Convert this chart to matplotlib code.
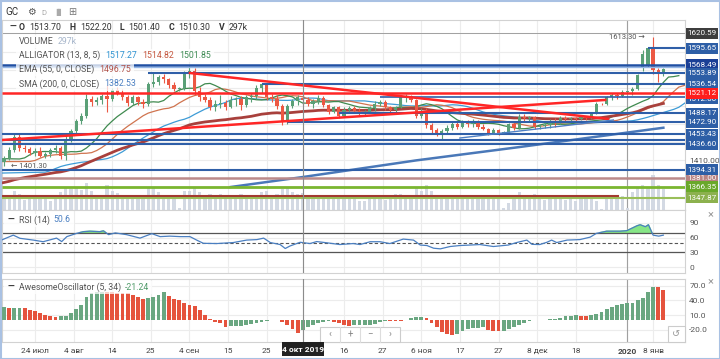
import numpy as np
import pandas as pd
import matplotlib.pyplot as plt
from matplotlib.patches import Rectangle

plt.rcParams['font.family'] = ['Roboto', 'DejaVu Sans']

W, H = 720, 359

# ---- data (daily GC bars, every weekday 16 Jul 2019 .. 10 Jan 2020) ----
dates = pd.bdate_range('2019-07-16', '2020-01-10')

opens = [1408, 1414, 1427, 1449, 1430, 1429, 1422, 1426, 1418, 1420, 1427, 1431, 1418, 1446,
         1458, 1475, 1484, 1512, 1506, 1510, 1516, 1512, 1526, 1522, 1514, 1505, 1514, 1506,
         1504, 1536, 1540, 1548, 1544, 1534, 1528, 1530, 1554, 1558, 1524, 1514, 1510, 1498,
         1504, 1505, 1498, 1510, 1512, 1502, 1514, 1516, 1530, 1536, 1514, 1512, 1500, 1474,
         1500, 1508, 1513.7, 1510, 1504, 1508, 1513, 1502, 1490, 1498, 1484, 1494, 1496, 1492,
         1488, 1490, 1496, 1504, 1506, 1498, 1494, 1498, 1514, 1516, 1510, 1484, 1492, 1468,
         1460, 1456, 1458, 1464, 1470, 1466, 1472, 1470, 1474, 1466, 1462, 1456, 1460, 1455,
         1457, 1470, 1464, 1482, 1480, 1482, 1466, 1467, 1468, 1475, 1472, 1480, 1478, 1480,
         1478, 1482, 1480, 1488, 1504, 1503, 1514, 1518, 1516, 1523, 1524, 1528, 1562, 1568,
         1595, 1560, 1555]
highs = [1418, 1432, 1455, 1453, 1435, 1432, 1430, 1432, 1424, 1430, 1436, 1434, 1450, 1462,
         1478, 1488, 1520, 1516, 1514, 1520, 1534, 1530, 1532, 1528, 1518, 1518, 1517, 1512,
         1540, 1556, 1552, 1553, 1547, 1540, 1532, 1558, 1566, 1562, 1532, 1520, 1514, 1510,
         1518, 1510, 1516, 1515, 1516, 1518, 1522, 1534, 1538, 1538, 1520, 1518, 1504, 1504,
         1512, 1518, 1522.2, 1514, 1512, 1518, 1517, 1504, 1500, 1500, 1498, 1500, 1500, 1496,
         1494, 1500, 1508, 1510, 1510, 1500, 1500, 1516, 1520, 1518, 1512, 1496, 1496, 1472,
         1464, 1462, 1468, 1474, 1474, 1476, 1476, 1478, 1476, 1470, 1464, 1464, 1462, 1458,
         1472, 1474, 1486, 1486, 1484, 1484, 1470, 1472, 1478, 1480, 1484, 1484, 1482, 1482,
         1484, 1484, 1490, 1506, 1505, 1516, 1522, 1522, 1526, 1525, 1531, 1553, 1593, 1597,
         1613.3, 1563, 1563]
lows = [1401.3, 1411, 1424, 1426, 1424, 1419, 1418, 1415, 1414, 1416, 1423, 1412, 1410, 1440,
        1455, 1470, 1480, 1500, 1501, 1504, 1490, 1508, 1518, 1510, 1500, 1502, 1502, 1496,
        1500, 1532, 1534, 1538, 1530, 1524, 1525, 1526, 1546, 1518, 1508, 1506, 1494, 1492,
        1496, 1494, 1496, 1500, 1494, 1498, 1506, 1512, 1522, 1510, 1506, 1495, 1469, 1470,
        1496, 1502, 1501.4, 1500, 1496, 1503, 1498, 1486, 1488, 1480, 1482, 1490, 1488, 1484,
        1484, 1488, 1492, 1500, 1494, 1488, 1490, 1496, 1506, 1506, 1480, 1480, 1464, 1456,
        1450, 1445, 1454, 1460, 1462, 1464, 1466, 1466, 1462, 1460, 1452, 1454, 1452, 1453,
        1454, 1460, 1462, 1474, 1474, 1462, 1462, 1464, 1464, 1466, 1470, 1474, 1474, 1475,
        1476, 1476, 1478, 1486, 1502, 1502, 1510, 1512, 1514, 1521, 1518, 1526, 1558, 1564,
        1553, 1540, 1550]
closes = [1414, 1427, 1449, 1430, 1429, 1422, 1426, 1418, 1420, 1427, 1431, 1418, 1446, 1458,
          1475, 1484, 1512, 1506, 1510, 1516, 1512, 1526, 1522, 1514, 1505, 1514, 1506, 1504,
          1536, 1540, 1548, 1544, 1534, 1528, 1530, 1554, 1558, 1524, 1514, 1510, 1498, 1504,
          1505, 1498, 1510, 1512, 1502, 1514, 1516, 1530, 1536, 1514, 1512, 1500, 1474, 1500,
          1508, 1514, 1510.3, 1504, 1508, 1513, 1502, 1490, 1498, 1484, 1494, 1496, 1492, 1488,
          1490, 1496, 1504, 1506, 1498, 1494, 1498, 1514, 1516, 1510, 1484, 1492, 1468, 1460,
          1456, 1458, 1464, 1470, 1466, 1472, 1470, 1474, 1466, 1462, 1456, 1460, 1455, 1457,
          1470, 1464, 1482, 1480, 1482, 1466, 1467, 1468, 1475, 1472, 1480, 1478, 1480, 1478,
          1482, 1480, 1488, 1504, 1503, 1514, 1518, 1516, 1523, 1524, 1528, 1551, 1586, 1595,
          1560, 1555, 1561]
volumes = [210, 260, 330, 280, 170, 190, 200, 230, 180, 160, 190, 310, 380, 350,
           390, 340, 460, 330, 240, 230, 420, 330, 290, 250, 240, 220, 230, 240,
           390, 380, 300, 260, 240, 230, 40, 320, 330, 390, 300, 250, 270, 260,
           280, 230, 220, 210, 280, 250, 230, 260, 300, 330, 260, 280, 360, 390,
           300, 280, 297, 210, 230, 240, 220, 260, 180, 250, 240, 200, 190, 150,
           160, 180, 210, 200, 170, 190, 280, 270, 230, 220, 390, 320, 420, 330,
           260, 250, 230, 260, 220, 180, 200, 230, 210, 190, 200, 220, 190, 30,
           120, 230, 300, 250, 220, 280, 180, 170, 240, 260, 240, 170, 180, 160,
           190, 200, 220, 150, 20, 180, 230, 210, 240, 30, 300, 400, 430, 380,
           600, 420, 360]

# Awesome Oscillator values per bar
ao_vals = [26, 25, 25, 25, 24, 21, 18, 14, 10, 8,
           5, 7, 9, 15, 23, 30, 48, 56, 56.5, 57.2,
           56.8, 56.5, 56, 55.5, 55, 52, 48, 43, 45, 48,
           52, 57, 50, 43, 40, 35, 31, 28, 21, 11,
           1, -4, -7, -14, -13.5, -12.5, -12, -11, -8, -6,
           -4, -2, -0.5, -1, -4, -10, -18, -26, -21.24, -15,
           -10, -6, -3.5, -2.5, -4, -7, -10, -12, -11.5, -11,
           -10.5, -10, -8, -5, -2, -2.3, -2.6, -2.8, 0.5, 3,
           5, 6.5, 3, -6, -14, -24, -29, -31, -28, -23,
           -19, -17, -16, -15, -20, -22, -23.5, -22, -18, -14,
           -11, -6, -2, -1, -0.5, -0.8, 1, 2.5, 4, 7,
           9, 9.5, 9, 8.5, 10.5, 12.5, 17, 23, 27.5, 31,
           33.5, 34.5, 35, 40, 46, 57, 68, 67.5, 61]

# RSI(14) (bar position, value)
rsi_x = [-0.5, 1.8, 3.1, 5.7, 7.6, 10.2, 11.2, 12.2, 14.1, 15.4, 16.7, 18.6, 19.3, 20.3, 21.6,
         23.8, 26.4, 28.7, 30.3, 32.2, 34.2, 36.1, 37.4, 38.7, 41.3, 44.5, 47.1, 49.1, 50.4,
         51.7, 53.6, 54.6, 55.5, 57.5, 59.4, 60.7, 62.7, 65.2, 67.8, 69.1, 71.1, 73, 74.9,
         77.5, 79.5, 80.8, 82.1, 83.4, 84.7, 86.6, 88.5, 90.5, 92.4, 95, 97.9, 99.5, 101.5,
         102.5, 104, 105.4, 106.3, 107.3, 109.3, 111.8, 113.8, 115, 117, 119.6, 120.9, 122.9,
         123.5, 124.5, 125.1, 126, 127.1, 128]
rsi_v = [55, 65, 58.6, 55, 51.7, 59, 52, 62, 68.6, 72, 73, 72, 73.7, 66, 69.5,
         66, 59, 68, 62, 63, 62, 62, 55, 48.5, 48, 50, 55, 56, 59,
         50, 46, 38, 43, 50.6, 48, 52, 49.5, 46, 48, 46, 51.7, 51.7, 48,
         57, 55, 45, 44, 38.6, 37.3, 42, 44, 45, 46, 42, 45, 50, 55,
         46.4, 46, 50.6, 55, 50, 55, 56, 61, 68.6, 73, 73, 74, 84,
         86, 82, 86, 65, 63, 65]

# SMA(200) (bar, price); it shows from about the 44th bar
sma_x = [44, 58, 80, 100, 128]
sma_v = [1366, 1382.5, 1410, 1432, 1464]

# starting values of the smoothed lines (carried in from earlier history)
jaw_seed, teeth_seed, lips_seed, ema_seed = 1389, 1408, 1413, 1372

# horizontal levels: price, colour, width, first bar (None = whole width)
levels = [
    (1568.49, '#1f4fa3', 1.8, None), (1565.0, '#93b6e6', 1.0, None),
    (1553.89, '#2f5fa8', 1.5, 28), (1536.54, '#2f5fa8', 1.5, 50),
    (1595.65, '#2f5fa8', 1.5, 125), (1521.12, '#ff2626', 1.8, None),
    (1515.0, '#2f5fa8', 1.2, 73), (1488.17, '#2f5fa8', 1.5, 65),
    (1472.90, '#2f5fa8', 1.5, 55), (1453.43, '#2f5fa8', 1.5, None),
    (1443.7, '#2f5fa8', 1.5, None), (1436.6, '#2f5fa8', 1.5, None),
    (1394.31, '#2f5fa8', 1.5, None), (1381.0, '#bb8a8a', 1.8, None),
    (1366.35, '#7ab630', 2.0, None), (1347.87, '#9abf5a', 1.5, None),
]
# trend lines: (bar0, price0, bar1, price1, colour, width)
trends = [
    (-0.4, 1443.7, 116.7, 1509.9, '#ff2626', 1.8),
    (36.1, 1554.5, 117.3, 1478.5, '#ff2626', 1.8),
    (88.5, 1447.0, 118.3, 1476.8, '#4d7fc4', 1.0),
    (-0.4, 1350.4, 119.2, 1350.4, '#a33a30', 1.5),
]

# right-hand price labels: price, text ('' = covered box), colour, stacking order
price_labels = [
    (1620.59, '1620.59', '#3d3d3d', 30), (1595.65, '1595.65', '#2d5ea6', 11),
    (1568.49, '1568.49', '#1a3f96', 12), (1553.89, '1553.89', '#2d5ea6', 13),
    (1536.54, '1536.54', '#2d5ea6', 14), (1512.0, '1512.00', '#2d5ea6', 15),
    (1521.12, '1521.12', '#ff1e1e', 16), (1488.17, '1488.17', '#2d5ea6', 17),
    (1472.90, '1472.90', '#2d5ea6', 18), (1443.7, '', '#2d5ea6', 19),
    (1436.6, '1436.60', '#2d5ea6', 20), (1453.43, '1453.43', '#2d5ea6', 21),
    (1381.0, '1381.00', '#b88383', 22), (1394.31, '1394.31', '#2d5ea6', 23),
    (1350.4, '1350.40', '#a43b32', 24), (1366.35, '1366.35', '#69a82a', 25),
    (1347.87, '1347.87', '#8cb14e', 26),
]

tick_dates = ['2019-07-24', '2019-08-04', '2019-08-14', '2019-08-25', '2019-09-04',
              '2019-09-15', '2019-09-25', '2019-10-04', '2019-10-16', '2019-10-27',
              '2019-11-06', '2019-11-17', '2019-11-27', '2019-12-08', '2019-12-18',
              '2020-01-01', '2020-01-08']
tick_labels = ['24 июл', '4 авг', '14', '25', '4 сен', '15', '25', '', '16', '27',
               '6 ноя', '17', '27', '8 дек', '18', '2020', '8 янв']

GREEN, RED = '#5aa077', '#ec5843'
AO_GREEN, AO_RED = '#6aa781', '#e5533d'
VOL_C = '#d3d9e3'
FS = 6.3

# ---- helpers ----
def fx(x):
    return x / W

def fy(y):
    return 1 - y / H

def ftext(x, y, s, **kw):
    kw.setdefault('fontsize', FS)
    kw.setdefault('color', '#333333')
    kw.setdefault('zorder', 10)
    return fig.text(fx(x), fy(y), s, va='center', **kw)

def frect(x0, y0, x1, y1, **kw):
    fig.patches.append(Rectangle((fx(x0), fy(y1)), (x1 - x0) / W, (y1 - y0) / H,
                                 transform=fig.transFigure, **kw))

def seq(x0, y, parts):
    # lay text pieces one after another; returns the end position in pixels
    xp = x0
    for s, colr, bold, gap in parts:
        t = ftext(xp, y, s, color=colr, fontweight='bold' if bold else 'normal')
        xp += t.get_window_extent(renderer).width + gap
    return xp

def smma(vals, n, seed):
    out, prev = [], seed
    for v in vals:
        prev = (prev * (n - 1) + v) / n
        out.append(prev)
    return np.array(out)

o, h, l, c = map(np.array, (opens, highs, lows, closes))
vol = np.array(volumes)
x = np.arange(len(c))
XMIN, XMAX = -0.39, 132.2
YLO, YHI = 1328.0, 1642.1

wk = np.array([np.is_busday(d) for d in tick_dates])
tick_pos = [np.busday_count('2019-07-16', d) - (0 if b else 0.5) for d, b in zip(tick_dates, wk)]
cross = tick_pos[7]
year_x = tick_pos[15]

fig = plt.figure(figsize=(W / 100, H / 100), dpi=100)
renderer = fig.canvas.get_renderer()
ax = fig.add_axes([fx(2), fy(210), 683 / W, 190 / H])
ax_rsi = fig.add_axes([fx(2), fy(273), 683 / W, 63 / H])
ax_ao = fig.add_axes([fx(2), fy(342), 683 / W, 63 / H])

for a in (ax, ax_rsi, ax_ao):
    a.set_xlim(XMIN, XMAX)
    a.set_xticks(tick_pos)
    a.set_xticklabels([])
    a.grid(True, color='#ececec', lw=0.8, zorder=0)
    a.set_axisbelow(True)
    a.yaxis.tick_right()
    a.tick_params(length=0, labelsize=6, labelcolor='#555555', pad=3)
    for s in a.spines.values():
        s.set_color('#d2d2d2')
        s.set_linewidth(0.8)
    a.axvline(cross, color='#8c8c8c', lw=0.8, zorder=6)
    a.axvline(year_x, color='#a0a0a0', lw=0.8, zorder=1)

# ---- main price panel ----
price_ticks = [1410, 1440, 1470, 1500, 1530, 1560, 1590, 1620]
ax.set_ylim(YLO, YHI)
ax.set_yticks(price_ticks)
ax.set_yticklabels(['%.2f' % v if v == 1410 else '' for v in price_ticks])

ax.plot(sma_x, sma_v, color='#4a78b8', lw=1.8, zorder=1)
ax.bar(x, vol * 0.097, bottom=YLO, width=0.62, color=VOL_C, zorder=1.5, linewidth=0)

med = (h + l) / 2
for n, sh, seed, colr in ((13, 8, jaw_seed, '#3d9bd6'), (8, 5, teeth_seed, '#d0744f'),
                          (5, 3, lips_seed, '#3f8a4f')):
    vals = smma(med, n, seed)
    ax.plot(np.r_[-1, x + sh], np.r_[seed, vals], color=colr, lw=0.9, zorder=3)

ema, prev = [], ema_seed
for v in c:
    prev = prev + 2 / 56 * (v - prev)
    ema.append(prev)
ax.plot(np.r_[-1, x], np.r_[ema_seed, ema], color='#a8403c', lw=2.0, zorder=3)

col = np.where(c >= o, GREEN, RED)
ax.vlines(x, l, h, colors=col, lw=0.8, zorder=4)
ax.bar(x, np.maximum(np.abs(c - o), 0.8), bottom=np.minimum(o, c), width=0.62,
       color=col, linewidth=0, zorder=4.1)

for p, colr, lw, start in levels:
    ax.hlines(p, XMIN if start is None else start, XMAX, color=colr, lw=lw, zorder=5)
for x0, p0, x1, p1, colr, lw in trends:
    ax.plot([x0, x1], [p0, p1], color=colr, lw=lw, zorder=5)

ax.axhline(1620.59, color='#a0a0a0', lw=0.7, zorder=2)
ax.text(126 - 1.6, 1613.3, '1613.30 \u2192', ha='right', va='center', fontsize=5.5,
        color='#555555', zorder=7)
ax.text(1.4, 1401.3, '\u2190 1401.30', ha='left', va='center', fontsize=5.5,
        color='#555555', zorder=7)

# ---- RSI panel ----
ax_rsi.set_ylim(-11.5, 115.8)
ax_rsi.set_yticks([0, 30, 60, 90])
rx, rv = np.array(rsi_x), np.array(rsi_v)
ax_rsi.fill_between(rx, rv, 70, where=rv > 70, interpolate=True, color='#86e586', zorder=2)
ax_rsi.axhline(70, color='#555555', lw=0.9, zorder=2)
ax_rsi.axhline(30, color='#555555', lw=0.9, zorder=2)
ax_rsi.axhline(50, color='#555555', lw=0.8, ls=(0, (3, 2)), zorder=2)
ax_rsi.plot(rx, rv, color='#4a7fc1', lw=0.9, zorder=3)

# ---- Awesome Oscillator panel ----
ao = np.array(ao_vals)
ao_col = [AO_GREEN] + [AO_GREEN if ao[i] >= ao[i - 1] else AO_RED for i in range(1, len(ao))]
ax_ao.set_ylim(-45.4, 84)
ax_ao.set_yticks([-20, 10, 40, 70])
ax_ao.set_yticklabels(['-20.0', '10.0', '40.0', '70.0'])
ax_ao.bar(x, ao, width=0.74, color=ao_col, linewidth=0, zorder=3)
ax_ao.set_xticklabels(tick_labels)
ax_ao.tick_params(axis='x', pad=4, labelsize=6, labelcolor='#444444')
ax_ao.get_xticklabels()[15].set_fontweight('bold')

# ---- right-hand price labels ----
for p, txt, colr, z in price_labels:
    yp = H - ax.transData.transform((0, p))[1]
    frect(686, yp - 5.5, 718, yp + 5.5, fc=colr, ec='none', zorder=z)
    if txt:
        fig.text(fx(702), fy(yp), txt, ha='center', va='center', fontsize=5.8,
                 color='white', zorder=z + 0.5)

# ---- header / legend texts ----
white = dict(fc='white', ec='none', alpha=0.75, zorder=8)
DARK, MID = '#333333', '#555555'

ftext(5, 12, 'GC', fontsize=7)
ftext(27, 12, '\u2699', fontsize=7, color=MID, family='DejaVu Sans')
ftext(41, 13, 'D', fontsize=5.5, color='#aaaaaa')
ftext(53, 12, '\u2590\u258c', fontsize=5, color='#aaaaaa', family='DejaVu Sans')
ftext(68, 12, '\u229e', fontsize=7, color='#777777', family='DejaVu Sans')

ftext(9, 27, '\u2014', fontweight='bold')
seq(19, 27, [('O', DARK, True, 4.5), ('1513.70', DARK, False, 8),
             ('H', DARK, True, 4.5), ('1522.20', DARK, False, 8),
             ('L', DARK, True, 4.5), ('1501.40', DARK, False, 8),
             ('C', DARK, True, 4.5), ('1510.30', DARK, False, 8),
             ('V', DARK, True, 4.5), ('297k', DARK, False, 0)])

rows = [
    (41, [('VOLUME', MID, False, 4), ('297k', '#a7b6cb', False, 0)]),
    (55, [('ALLIGATOR (13, 8, 5)', MID, False, 5), ('1517.27', '#2e93d1', False, 5),
          ('1514.82', '#c4573f', False, 5), ('1501.85', '#3f8c55', False, 0)]),
    (69, [('EMA (55, 0, CLOSE)', MID, False, 5), ('1496.75', '#b0524a', False, 0)]),
    (84, [('SMA (200, 0, CLOSE)', MID, False, 5), ('1382.53', '#4a7fc1', False, 0)]),
]
for yr, parts in rows:
    end = seq(19, yr, parts)
    frect(16, yr - 6.5, end + 3, yr + 6.5, **white)

ftext(8, 220, '\u2014', fontweight='bold')
end = seq(19, 220, [('RSI (14)', MID, False, 4), ('50.6', '#4a7fc1', False, 0)])
frect(4, 214, end + 3, 227, **white)
ftext(8, 287, '\u2014', fontweight='bold')
end = seq(19, 287, [('AwesomeOscillator (5, 34)', MID, False, 4),
                    ('-21.24', '#4f9a68', False, 0)])
frect(4, 281, end + 3, 294, **white)

ftext(711, 214, '\u00d7', fontsize=8, color='#999999', ha='center')
ftext(711, 281, '\u00d7', fontsize=8, color='#999999', ha='center')

# navigation buttons
frect(320, 327, 400, 342, fc='white', ec='#cccccc', lw=0.8, zorder=9)
for xb in (340, 360, 380):
    fig.lines.append(plt.Line2D([fx(xb)] * 2, [fy(327), fy(342)], color='#dddddd',
                                lw=0.8, transform=fig.transFigure, zorder=9.5))
for xb, s in ((330, '\u2039'), (350, '+'), (370, '\u2212'), (390, '\u203a')):
    ftext(xb, 334.5, s, ha='center', fontsize=7, color='#888888')
frect(668, 326, 685, 342, fc='white', ec='#cccccc', lw=0.8, zorder=9)
ftext(676.5, 334, '\u21ba', ha='center', fontsize=7, color='#999999', family='DejaVu Sans')

# crosshair date label
cx = ax.transData.transform((cross, 0))[0]
frect(cx - 21, 342, cx + 21, 356, fc='#222222', ec='none', zorder=11)
ftext(cx, 349, '4 окт 2019', ha='center', fontsize=6, color='white',
      fontweight='bold', zorder=12)

# outer frame
frect(0.5, 0.5, W - 0.5, H - 0.5, fill=False, ec='#a9c1e3', lw=1.5, zorder=20)

fig.savefig('out.png', dpi=100)
